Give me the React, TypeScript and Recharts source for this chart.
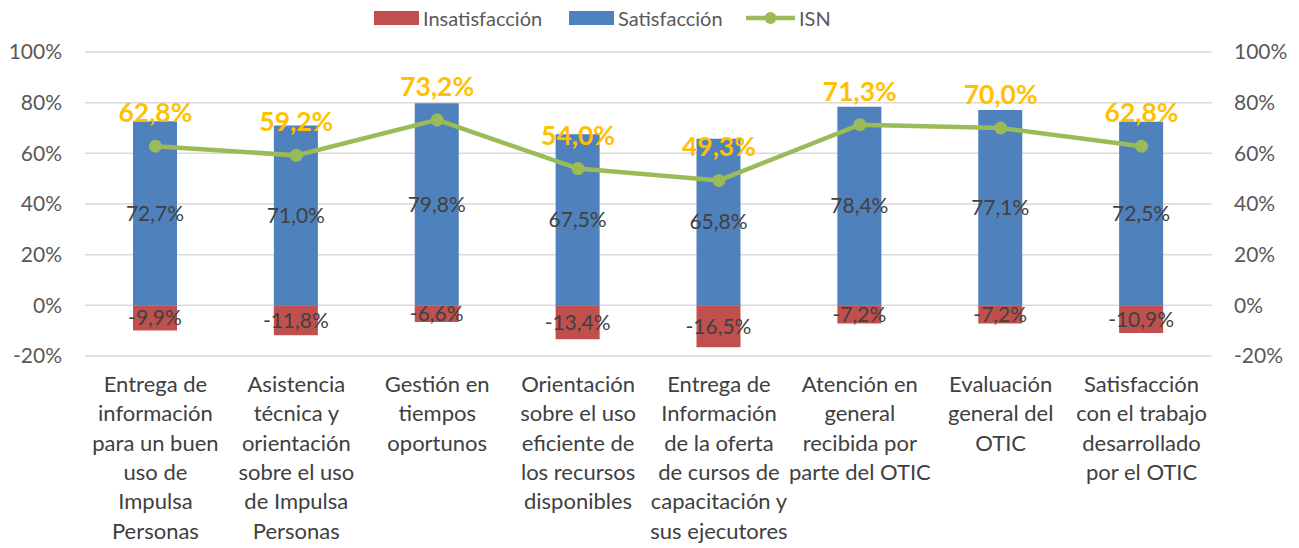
import React from 'react';
import {
  ComposedChart,
  Bar,
  Line,
  XAxis,
  YAxis,
  CartesianGrid,
  LabelList,
} from 'recharts';

const categories = [
  'Entrega de\ninformación\npara un buen\nuso de\nImpulsa\nPersonas',
  'Asistencia\ntécnica y\norientación\nsobre el uso\nde Impulsa\nPersonas',
  'Gestión en\ntiempos\noportunos',
  'Orientación\nsobre el uso\neficiente de\nlos recursos\ndisponibles',
  'Entrega de\nInformación\nde la oferta\nde cursos de\ncapacitación y\nsus ejecutores',
  'Atención en\ngeneral\nrecibida por\nparte del OTIC',
  'Evaluación\ngeneral del\nOTIC',
  'Satisfacción\ncon el trabajo\ndesarrollado\npor el OTIC',
];
const satisfaccion = [72.7, 71.0, 79.8, 67.5, 65.8, 78.4, 77.1, 72.5];
const insatisfaccion = [-9.9, -11.8, -6.6, -13.4, -16.5, -7.2, -7.2, -10.9];
const isn = [62.8, 59.2, 73.2, 54.0, 49.3, 71.3, 70.0, 62.8];
const yTicks = [-20, 0, 20, 40, 60, 80, 100];

const RED = '#C0504D';
const BLUE = '#4F81BD';
const GREEN = '#9BBB59';
const GOLD = '#FFC000';
const FONT = 'Lato, "Open Sans", sans-serif';

const data = categories.map((c, i) => ({
  name: c,
  Insatisfacción: insatisfaccion[i],
  Satisfacción: satisfaccion[i],
  ISN: isn[i],
}));

const fmt = (v: any) => `${Number(v).toFixed(1).replace('.', ',')}%`;

const CategoryTick = (props: any) => {
  const { x, y, payload } = props;
  const lines = String(payload.value).split('\n');
  return (
    <g>
      {lines.map((ln: string, i: number) => (
        <text
          key={i}
          x={x}
          y={y + 28 + i * 29.3}
          textAnchor="middle"
          fontSize={22}
          fill="#404040"
          fontFamily={FONT}
        >
          {ln}
        </text>
      ))}
    </g>
  );
};

const IsnLabel = (props: any) => {
  const { x, y, value } = props;
  return (
    <text
      x={x}
      y={y - 34}
      textAnchor="middle"
      dominantBaseline="central"
      fontSize={26.5}
      fontWeight="bold"
      fill={GOLD}
      fontFamily={FONT}
    >
      {fmt(value)}
    </text>
  );
};

const legendItems = [
  { name: 'Insatisfacción', color: RED, type: 'rect', x: 374 },
  { name: 'Satisfacción', color: BLUE, type: 'rect', x: 569 },
  { name: 'ISN', color: GREEN, type: 'line', x: 746 },
];

export default function App() {
  return (
    <div style={{ position: 'absolute', left: 0, top: 0, width: 1299, height: 548, background: '#fff', fontFamily: FONT }}>
      <ComposedChart
        width={1299}
        height={548}
        data={data}
        stackOffset="sign"
        margin={{ top: 52, right: 0, bottom: 0, left: 0 }}
        style={{ fontFamily: FONT }}
      >
        <CartesianGrid vertical={false} stroke="#D9D9D9" strokeWidth={1.5} yAxisId="left" />
        <XAxis
          dataKey="name"
          height={192}
          axisLine={false}
          tickLine={false}
          interval={0}
          tick={<CategoryTick />}
        />
        <YAxis
          yAxisId="left"
          width={85}
          domain={[-20, 100]}
          ticks={yTicks}
          tickFormatter={(v: number) => `${v}%`}
          axisLine={false}
          tickLine={false}
          tickMargin={17}
          tick={{ fontSize: 21, fill: '#595959', fontFamily: FONT }}
        />
        <YAxis
          yAxisId="right"
          orientation="right"
          width={87}
          domain={[-20, 100]}
          ticks={yTicks}
          tickFormatter={(v: number) => `${v}%`}
          axisLine={false}
          tickLine={false}
          tickMargin={16}
          tick={{ fontSize: 21, fill: '#595959', fontFamily: FONT, textAnchor: 'start' }}
        />
        <Bar yAxisId="left" dataKey="Satisfacción" stackId="s" fill={BLUE} barSize={44} isAnimationActive={false}>
          <LabelList dataKey="Satisfacción" position="center" formatter={fmt} fill="#404040" fontSize={21} fontFamily={FONT} />
        </Bar>
        <Bar yAxisId="left" dataKey="Insatisfacción" stackId="s" fill={RED} barSize={44} isAnimationActive={false}>
          <LabelList dataKey="Insatisfacción" position="center" formatter={fmt} fill="#404040" fontSize={21} fontFamily={FONT} />
        </Bar>
        <Line
          yAxisId="right"
          dataKey="ISN"
          type="linear"
          stroke={GREEN}
          strokeWidth={4.5}
          dot={{ r: 6.5, fill: GREEN, stroke: GREEN, strokeWidth: 0 }}
          isAnimationActive={false}
        >
          <LabelList dataKey="ISN" content={<IsnLabel />} />
        </Line>
      </ComposedChart>
      {legendItems.map((it) => (
        <div key={it.name} style={{ position: 'absolute', left: it.x, top: 4, height: 28, display: 'flex', alignItems: 'center' }}>
          {it.type === 'rect' ? (
            <div style={{ width: 45, height: 14, background: it.color }} />
          ) : (
            <svg width={49} height={14}>
              <line x1={0} y1={7} x2={49} y2={7} stroke={it.color} strokeWidth={4.5} />
              <circle cx={24.5} cy={7} r={6} fill={it.color} />
            </svg>
          )}
          <span style={{ marginLeft: 4, fontSize: 20, color: '#595959', fontFamily: FONT }}>{it.name}</span>
        </div>
      ))}
    </div>
  );
}
